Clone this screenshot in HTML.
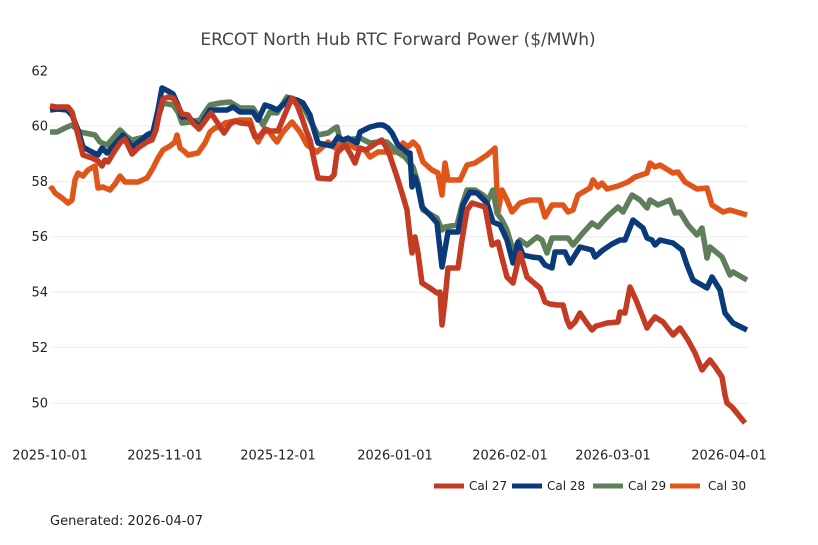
<!DOCTYPE html>
<html><head><meta charset="utf-8"><style>
html,body{margin:0;padding:0;background:#fff;}
svg{display:block;font-family:"DejaVu Sans","Liberation Sans",sans-serif;}
</style></head><body>
<svg width="818" height="545" viewBox="0 0 818 545" xmlns="http://www.w3.org/2000/svg">
<rect width="818" height="545" fill="#fff"/>
<text x="398" y="45" text-anchor="middle" font-size="17" fill="#444">ERCOT North Hub RTC Forward Power ($/MWh)</text>
<g stroke="#ececec" stroke-width="1">
<line x1="50" x2="748" y1="126" y2="126"/>
<line x1="50" x2="748" y1="181.5" y2="181.5"/>
<line x1="50" x2="748" y1="236.7" y2="236.7"/>
<line x1="50" x2="748" y1="292.2" y2="292.2"/>
<line x1="50" x2="748" y1="347.3" y2="347.3"/>
<line x1="50" x2="748" y1="403.2" y2="403.2"/>
</g>
<g font-size="13" fill="#222" text-anchor="end">
<text x="48" y="75.5">62</text>
<text x="48" y="130.5">60</text>
<text x="48" y="186">58</text>
<text x="48" y="241.2">56</text>
<text x="48" y="296.7">54</text>
<text x="48" y="351.8">52</text>
<text x="48" y="407.7">50</text>
</g>
<g font-size="13" fill="#222" text-anchor="middle">
<text x="50" y="459.5">2025-10-01</text>
<text x="165" y="459.5">2025-11-01</text>
<text x="278" y="459.5">2025-12-01</text>
<text x="395" y="459.5">2026-01-01</text>
<text x="510" y="459.5">2026-02-01</text>
<text x="613" y="459.5">2026-03-01</text>
<text x="729" y="459.5">2026-04-01</text>
</g>
<g fill="none" stroke-width="5.5" stroke-linejoin="round" stroke-linecap="butt">
<polyline stroke="#e0561a" points="50,190 52,188 55,193 62,198 68,203 72,200 75,180 78,173 83,176 88,170 95,166 98,188 103,187 110,190 115,184 120,176 125,182 138,182 147,178 153,168 158,158 163,150 170,146 175,142 177,135 180,148 185,152 188,155 198,153 205,143 210,132 215,128 220,127 225,123 230,122 240,120 250,120 253,130 258,142 263,133 268,130 273,137 277,142 283,132 292,122 300,132 307,145 317,152 328,142 335,148 345,142 355,148 365,150 370,157 378,152 387,152 397,152 403,143 408,147 413,142 418,147 423,162 432,170 438,173 442,195 445,163 448,180 460,180 467,165 475,163 487,155 493,150 495,148 498,212 502,190 507,200 512,212 520,203 530,200 540,200 545,217 552,205 555,205 563,205 568,212 573,210 578,195 590,188 593,180 598,187 602,183 607,189 618,186 628,182 635,177 647,173 650,163 655,167 660,165 673,173 678,172 685,182 697,189 707,188 712,205 723,212 730,210 747,215"/>
<polyline stroke="#5f7f5a" points="50,132 57,132 65,128 72,125 80,132 95,135 100,142 107,145 114,137 120,130 126,136 132,140 140,138 147,137 153,133 158,118 163,103 173,105 178,112 182,123 190,122 200,120 205,112 210,105 220,103 230,102 235,105 240,108 253,108 258,116 263,125 270,112 277,113 287,97 294,100 300,102 305,110 310,120 318,135 328,133 335,128 337,127 340,140 348,140 360,138 370,143 378,142 387,142 392,147 397,152 405,157 413,167 418,183 423,210 430,214 437,218 442,230 445,227 457,225 462,205 467,190 475,190 483,195 488,200 493,190 497,213 502,220 507,230 513,250 520,240 527,245 537,237 542,240 547,253 552,238 568,238 573,245 582,234 592,223 598,227 608,216 618,207 623,212 632,195 640,200 647,208 650,200 658,205 670,200 675,213 680,212 688,225 697,235 702,228 707,258 710,247 722,257 730,275 733,272 747,280"/>
<polyline stroke="#0b3a7a" points="50,110 58,109 67,110 72,115 78,130 83,147 90,151 98,155 102,148 107,153 115,144 123,135 128,141 132,147 140,141 147,135 153,132 158,110 162,88 168,91 173,94 178,105 182,117 188,117 194,122 200,127 205,118 210,110 220,110 227,110 233,107 240,112 253,112 258,120 265,105 271,107 277,110 284,104 290,98 297,100 303,103 310,115 314,130 318,143 332,146 338,137 343,140 348,138 357,143 360,132 370,127 378,125 383,125 388,128 392,133 398,145 408,153 410,153 412,187 415,177 418,187 422,207 430,215 437,223 442,267 448,232 458,232 463,205 470,192 477,193 487,203 493,222 500,225 507,240 513,263 518,242 523,255 532,257 540,258 545,265 552,268 555,252 565,252 570,263 580,247 592,250 595,257 603,250 612,244 620,240 625,240 633,220 643,228 647,238 652,240 655,245 660,240 673,243 682,250 687,265 693,280 707,288 712,277 720,290 725,313 733,323 747,330"/>
<polyline stroke="#c23b22" points="50,106 56,107 68,107 72,112 78,135 83,155 92,158 98,161 102,166 105,160 108,162 114,152 120,143 125,139 132,154 138,148 147,142 152,140 156,130 160,110 163,99 168,97 173,98 178,106 182,114 188,115 193,123 199,129 205,121 211,113 217,122 224,133 230,124 235,121 241,123 250,124 255,137 260,136 265,129 270,131 278,131 285,114 292,98 297,105 302,118 306,130 310,140 314,160 318,178 330,179 334,175 337,153 345,145 350,153 355,163 360,148 366,150 372,146 378,142 382,140 386,147 390,156 394,168 397,177 402,193 407,210 410,237 412,253 415,237 418,253 422,283 430,288 437,293 440,292 442,325 445,300 448,268 458,268 462,240 467,210 472,203 485,207 488,223 492,245 498,242 502,258 507,277 513,283 520,253 527,277 534,283 540,288 545,302 550,304 557,305 563,305 567,320 570,327 575,322 580,313 586,322 592,330 596,326 600,325 607,323 618,322 620,312 625,313 630,287 636,300 642,315 647,328 651,322 655,317 663,322 673,335 680,328 688,340 695,353 702,370 705,366 710,360 716,368 722,377 725,395 727,403 732,407 745,423"/>
</g>
<g font-size="12" fill="#222">
<rect x="434" y="483.5" width="30" height="5" fill="#c23b22"/>
<text x="469" y="490">Cal 27</text>
<rect x="512" y="483.5" width="30" height="5" fill="#0b3a7a"/>
<text x="547" y="490">Cal 28</text>
<rect x="593" y="483.5" width="30" height="5" fill="#5f7f5a"/>
<text x="628" y="490">Cal 29</text>
<rect x="670" y="483.5" width="30" height="5" fill="#e0561a"/>
<text x="708" y="490">Cal 30</text>
</g>
<text x="50" y="525" font-size="13" fill="#222">Generated: 2026-04-07</text>
</svg>
</body></html>
